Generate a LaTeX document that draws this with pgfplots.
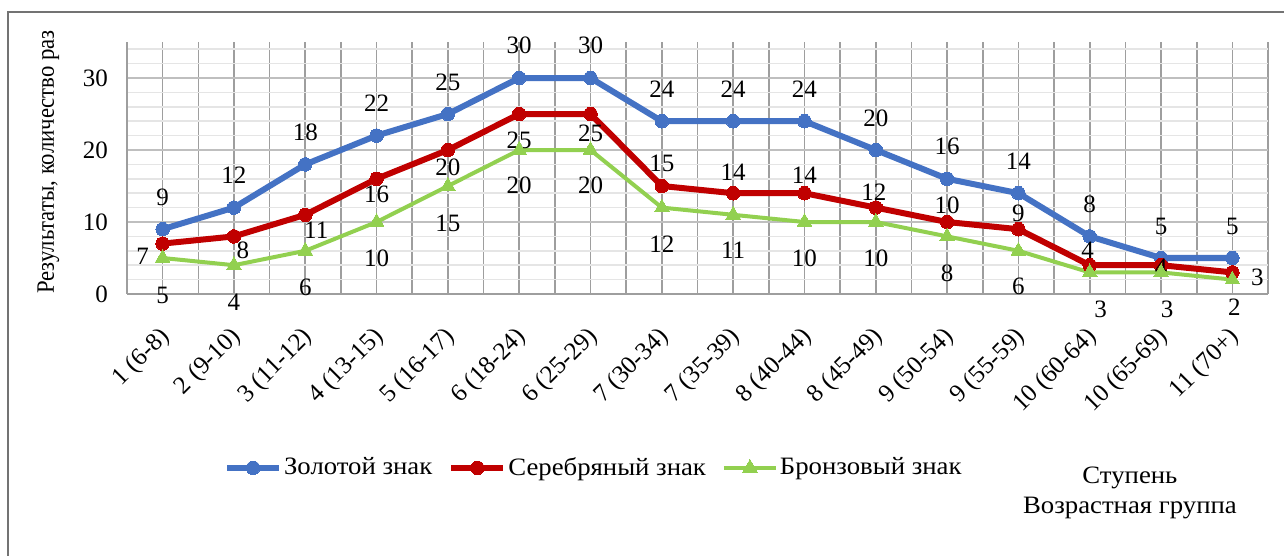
\documentclass[border=0pt]{standalone}
\usepackage{fontspec}
\setmainfont{Liberation Serif}
\newfontfamily\lib{Liberation Serif}
\newfontfamily\libw{Liberation Serif}[FakeStretch=1.07]
\newfontfamily\libn{Liberation Serif}[FakeStretch=0.91]
\usepackage{pgfplots}
\pgfplotsset{compat=1.18}
\usepackage{pgfplotstable}

\definecolor{cgold}{HTML}{4472C4}
\definecolor{csilver}{HTML}{C00000}
\definecolor{cbronze}{HTML}{92D050}
\newcommand\fs{\lib\fontsize{12.5pt}{15pt}\selectfont}
\newcommand\fsw{\libw\fontsize{12.5pt}{15pt}\selectfont}
\newcommand\fsn{\libn\fontsize{12.5pt}{15pt}\selectfont}

\pgfplotstableread{
x y dx dy
0 9 0 16
1 12 0 16
2 18 0 16
3 22 0 16
4 25 0 16
5 30 0 16.5
6 30 0 16.5
7 24 0 16
8 24 0 16
9 24 0 16
10 20 0 16
11 16 0 16
12 14 0 16
13 8 0 16
14 5 0 16
15 5 0 16
}\goldtab

\pgfplotstableread{
x y dx dy
0 7 -10 -6.5
1 8 4.5 -7
2 11 5.5 -7.5
3 16 0 -8
4 20 0 -8.5
5 25 0 -13
6 25 0 -9.5
7 15 0 11.5
8 14 0 10.5
9 14 0 9
10 12 -1 7.5
11 10 0 8.5
12 9 0 8
13 4 -1 7.5
14 4 0 -1
15 3 12.5 -2.5
}\silvertab

\pgfplotstableread{
x y dx dy
0 5 0 -18.5
1 4 0 -18.5
2 6 0 -18.5
3 10 0 -18
4 15 0 -18.5
5 20 0 -17.5
6 20 0 -17.5
7 12 0 -18.5
8 11 0 -17.5
9 10 0 -18
10 10 0 -18
11 8 0 -18.5
12 6 0 -18
13 3 5.5 -18.5
14 3 3 -18.5
15 2 1 -14
}\bronzetab

\pgfplotsset{
  lbl/.style={
    nodes near coords={\pgfmathprintnumber{\pgfplotspointmeta}},
    visualization depends on={\thisrow{dx}\as\dx},
    visualization depends on={\thisrow{dy}\as\dy},
    every node near coord/.append style={anchor=center, xshift=\dx pt, yshift=\dy pt, text=black, font=\fs},
  }
}

\begin{document}
\begin{tikzpicture}
\useasboundingbox (0,0) rectangle (642pt,278pt);
\draw[color=black!55, line width=0.8pt] (4pt,-10pt) -- (4pt,272pt) -- (660pt,272pt);
\begin{axis}[
  at={(63.5pt,131pt)}, anchor=south west,
  width=570.5pt, height=126pt, scale only axis,
  xmin=-0.5, xmax=15.5, ymin=0, ymax=35,
  clip=false,
  axis x line*=bottom, axis y line*=left,
  axis line style={black!38, line width=0.8pt},
  major tick length=0pt, minor tick length=0pt,
  xtick={0,...,15},
  minor xtick={-0.5,0.5,...,15.5},
  xticklabels={1 (6-8),2 (9-10),3 (11-12),4 (13-15),5 (16-17),6 (18-24),6 (25-29),7 (30-34),7 (35-39),8 (40-44),8 (45-49),9 (50-54),9 (55-59),10 (60-64),10 (65-69),11 (70+)},
  ytick={0,10,20,30},
  minor ytick={2,4,6,8,12,14,16,18,22,24,26,28,32,34},
  grid=both,
  major x grid style={black!38, line width=0.8pt},
  minor x grid style={black!38, line width=0.8pt},
  major y grid style={black!25, line width=0.8pt},
  minor y grid style={black!10, line width=0.8pt},
  /pgf/number format/assume math mode=true,
  tick label style={font=\fs},
  xticklabel style={rotate=45, anchor=north east, inner sep=1pt, xshift=-11.6pt, yshift=-8.2pt},
  yticklabel style={xshift=-6pt},
  ylabel={Результаты, количество раз},
  ylabel style={font=\fsn, at={(-0.069,0.524)}, anchor=center},
  xlabel={Ступень\\Возрастная группа},
  xlabel style={font=\fsw, at={(0.879,-0.79)}, anchor=center, align=center},
  legend columns=3,
  legend style={at={(0.41,-0.69)}, anchor=center, draw=none, font=\fsw,
    /tikz/every even column/.append style={column sep=6pt},
    /tikz/every odd column/.append style={column sep=-1pt}},
  legend image code/.code={\draw[mark repeat=2,mark phase=2,#1] plot coordinates {(0pt,0pt)(13pt,0pt)(26pt,0pt)};},
]
\addplot[color=cgold, line width=3pt, mark=*, mark size=3.4pt, mark options={solid, line width=0pt}, lbl] table[x=x,y=y]{\goldtab};
\addlegendentry{Золотой знак}
\addplot[color=csilver, line width=3pt, mark=*, mark size=3.4pt, mark options={solid, line width=0pt}, lbl] table[x=x,y=y]{\silvertab};
\addlegendentry{Серебряный знак}
\addplot[color=cbronze, line width=2pt, mark=triangle*, mark size=4.2pt, mark options={solid, line width=0pt}, lbl] table[x=x,y=y]{\bronzetab};
\addlegendentry{Бронзовый знак}
\end{axis}
\end{tikzpicture}
\end{document}
